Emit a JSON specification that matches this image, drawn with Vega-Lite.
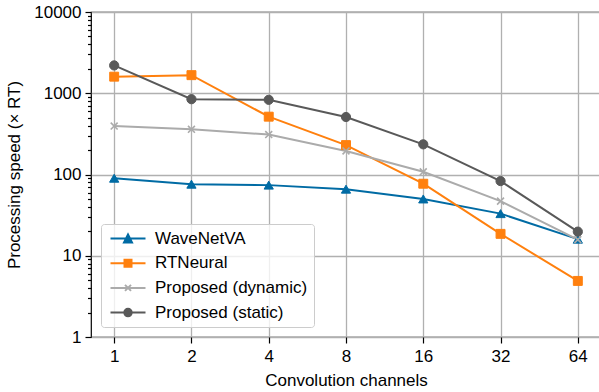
{
  "$schema": "https://vega.github.io/schema/vega-lite/v6.json",
  "width": 510,
  "height": 325,
  "autosize": {"type": "none"},
  "padding": {"left": 91, "top": 12, "right": 0, "bottom": 55},
  "config": {
    "font": "Liberation Sans",
    "view": {"stroke": "#000000", "strokeWidth": 1.2},
    "axis": {
      "domain": false,
      "grid": true,
      "gridColor": "#b0b0b0",
      "gridWidth": 1.3,
      "tickColor": "#000000",
      "tickWidth": 1.2,
      "labelFont": "Liberation Sans",
      "titleFont": "Liberation Sans",
      "labelFontSize": 17,
      "titleFontSize": 17,
      "labelColor": "#000000",
      "titleColor": "#000000",
      "titleFontWeight": "normal",
      "labelOverlap": false,
      "labelFlush": false
    }
  },
  "data": {
    "values": [
      {"series": "WaveNetVA", "channels": 1, "speed": 90},
      {"series": "WaveNetVA", "channels": 2, "speed": 76},
      {"series": "WaveNetVA", "channels": 4, "speed": 74},
      {"series": "WaveNetVA", "channels": 8, "speed": 66},
      {"series": "WaveNetVA", "channels": 16, "speed": 50},
      {"series": "WaveNetVA", "channels": 32, "speed": 33},
      {"series": "WaveNetVA", "channels": 64, "speed": 16},
      {"series": "RTNeural", "channels": 1, "speed": 1600},
      {"series": "RTNeural", "channels": 2, "speed": 1670},
      {"series": "RTNeural", "channels": 4, "speed": 515},
      {"series": "RTNeural", "channels": 8, "speed": 230},
      {"series": "RTNeural", "channels": 16, "speed": 77},
      {"series": "RTNeural", "channels": 32, "speed": 18.6},
      {"series": "RTNeural", "channels": 64, "speed": 4.9},
      {"series": "Proposed (dynamic)", "channels": 1, "speed": 395},
      {"series": "Proposed (dynamic)", "channels": 2, "speed": 360},
      {"series": "Proposed (dynamic)", "channels": 4, "speed": 310},
      {"series": "Proposed (dynamic)", "channels": 8, "speed": 195},
      {"series": "Proposed (dynamic)", "channels": 16, "speed": 108},
      {"series": "Proposed (dynamic)", "channels": 32, "speed": 47},
      {"series": "Proposed (dynamic)", "channels": 64, "speed": 15.8},
      {"series": "Proposed (static)", "channels": 1, "speed": 2200},
      {"series": "Proposed (static)", "channels": 2, "speed": 845},
      {"series": "Proposed (static)", "channels": 4, "speed": 830},
      {"series": "Proposed (static)", "channels": 8, "speed": 510},
      {"series": "Proposed (static)", "channels": 16, "speed": 235},
      {"series": "Proposed (static)", "channels": 32, "speed": 83},
      {"series": "Proposed (static)", "channels": 64, "speed": 19.8}
    ]
  },
  "encoding": {
    "x": {
      "field": "channels",
      "type": "quantitative",
      "scale": {"type": "log", "base": 2, "domain": [0.8123, 78.79], "nice": false},
      "axis": {
        "values": [1, 2, 4, 8, 16, 32, 64],
        "format": "d",
        "tickSize": 6,
        "labelPadding": 5,
        "title": "Convolution channels",
        "titlePadding": 8
      }
    },
    "y": {
      "field": "speed",
      "type": "quantitative",
      "scale": {"type": "log", "domain": [1, 10000], "nice": false},
      "axis": {
        "values": [1, 2, 3, 4, 5, 6, 7, 8, 9, 10, 20, 30, 40, 50, 60, 70, 80, 90, 100, 200, 300, 400, 500, 600, 700, 800, 900, 1000, 2000, 3000, 4000, 5000, 6000, 7000, 8000, 9000, 10000],
        "format": "d",
        "labelExpr": "indexof([1, 10, 100, 1000, 10000], datum.value) >= 0 ? datum.label : ''",
        "tickSize": {"condition": {"test": "indexof([1, 10, 100, 1000, 10000], datum.value) >= 0", "value": 6}, "value": 3.5},
        "gridOpacity": {"condition": {"test": "indexof([1, 10, 100, 1000, 10000], datum.value) >= 0", "value": 1}, "value": 0},
        "labelPadding": 4,
        "title": "Processing speed (× RT)",
        "titlePadding": 10
      }
    }
  },
  "layer": [
    {
      "mark": {"type": "line", "strokeWidth": 2},
      "encoding": {
        "color": {
          "field": "series",
          "type": "nominal",
          "scale": {
            "domain": ["WaveNetVA", "RTNeural", "Proposed (dynamic)", "Proposed (static)"],
            "range": ["#006BA4", "#FF800E", "#ABABAB", "#595959"]
          },
          "legend": {
            "title": null,
            "orient": "bottom-left",
            "offset": 10,
            "padding": 6,
            "labelFont": "Liberation Sans",
            "labelFontSize": 17,
            "labelColor": "#000000",
            "symbolSize": 100,
            "labelOffset": 31,
            "rowPadding": 6.7,
            "strokeColor": "#cccccc",
            "fillColor": "rgba(255,255,255,0.8)",
            "cornerRadius": 3,
            "encode": {
              "symbols": {
                "update": {
                  "shape": {"signal": "datum.value === 'WaveNetVA' ? 'M-1,0H6M2.5,-0.8L3.3,0.8L1.7,0.8Z' : datum.value === 'RTNeural' ? 'M-1,0H6M1.8,-0.7H3.2V0.7H1.8Z' : datum.value === 'Proposed (dynamic)' ? 'M-1,0H6M1.9,-0.6L3.1,0.6M1.9,0.6L3.1,-0.6' : 'M-1,0H6M1.75,0A0.75,0.75 0 1,0 3.25,0A0.75,0.75 0 1,0 1.75,0Z'"},
                  "fill": {"signal": "datum.value === 'Proposed (dynamic)' ? 'transparent' : scale('color', datum.value)"},
                  "stroke": {"signal": "scale('color', datum.value)"},
                  "strokeWidth": {"value": 2},
                  "opacity": {"value": 1}
                }
              }
            }
          }
        }
      }
    },
    {
      "transform": [{"filter": "datum.series === 'WaveNetVA'"}],
      "mark": {"type": "point", "shape": "triangle-up", "filled": true, "size": 85, "opacity": 1, "fill": "#006BA4", "stroke": "#006BA4", "strokeWidth": 1}
    },
    {
      "transform": [{"filter": "datum.series === 'RTNeural'"}],
      "mark": {"type": "point", "shape": "square", "filled": true, "size": 80, "opacity": 1, "fill": "#FF800E", "stroke": "#FF800E", "strokeWidth": 1}
    },
    {
      "transform": [{"filter": "datum.series === 'Proposed (dynamic)'"}],
      "mark": {"type": "point", "shape": "M-0.75,-0.75L0.75,0.75M-0.75,0.75L0.75,-0.75", "filled": false, "size": 85, "opacity": 1, "fill": "transparent", "stroke": "#ABABAB", "strokeWidth": 1.6}
    },
    {
      "transform": [{"filter": "datum.series === 'Proposed (static)'"}],
      "mark": {"type": "point", "shape": "circle", "filled": true, "size": 85, "opacity": 1, "fill": "#595959", "stroke": "#595959", "strokeWidth": 1}
    }
  ]
}
